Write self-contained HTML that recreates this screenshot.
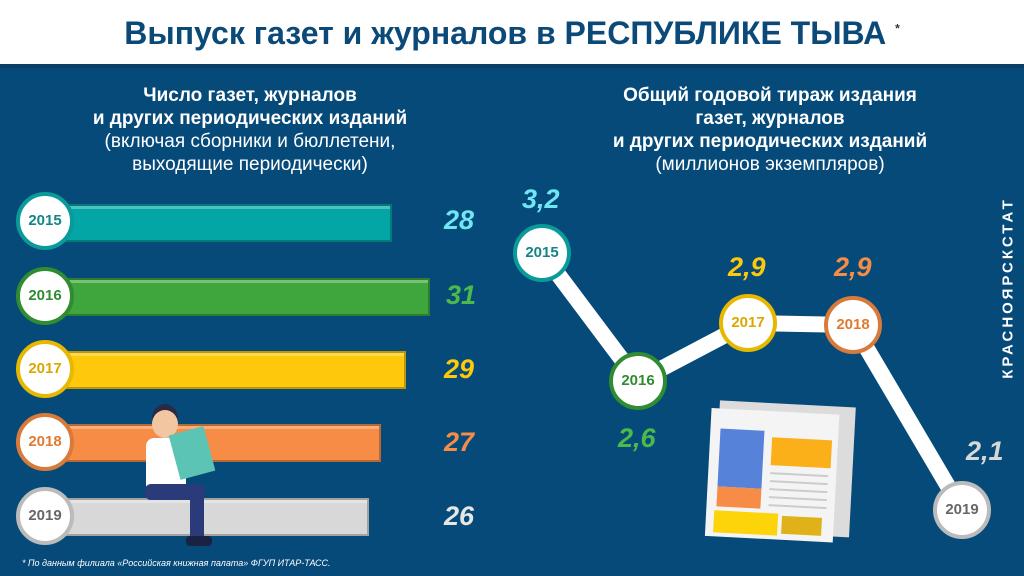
<!DOCTYPE html><html><head><meta charset="utf-8"><style>
body{margin:0;width:1024px;height:576px;overflow:hidden;background:#064a7a;font-family:"Liberation Sans",sans-serif;position:relative}
.top{position:absolute;left:0;top:0;width:1024px;height:64px;background:#fff;border-bottom:4px solid #0b3f68}
.title{position:absolute;top:15px;width:1024px;text-align:center;font-size:32px;font-weight:bold;color:#0b4a78}
.t{position:absolute;color:#fff;text-align:center;font-size:19px;line-height:23px}
.bar{position:absolute;height:34px;border:2px solid rgba(0,0,0,.25);box-shadow:inset 0 3px 0 rgba(255,255,255,.3)}
.c{position:absolute;width:50px;height:50px;border-radius:50%;background:#fff;border:4px solid;font-weight:bold;font-size:15px;text-align:center;line-height:50px}
.v{position:absolute;font-size:27px;font-weight:bold;font-style:italic}
</style></head><body>
<div class="top"></div>
<div class="title">Выпуск газет и журналов в РЕСПУБЛИКЕ ТЫВА <sup style="font-size:12px;color:#333">*</sup></div>
<div class="t" style="left:20px;width:460px;top:84px"><b>Число газет, журналов<br>и других периодических изданий</b><br>(включая сборники и бюллетени,<br>выходящие периодически)</div>
<div class="t" style="left:540px;width:460px;top:84px"><b>Общий годовой тираж издания<br>газет, журналов<br>и других периодических изданий</b><br>(миллионов экземпляров)</div>

<div class="bar" style="left:60px;top:204px;width:328px;background:#03a5a5"></div>
<div class="bar" style="left:60px;top:278px;width:366px;background:#3ea63c"></div>
<div class="bar" style="left:60px;top:351px;width:342px;background:#fdc90a"></div>
<div class="bar" style="left:60px;top:424px;width:317px;background:#f68c45"></div>
<div class="bar" style="left:60px;top:498px;width:305px;background:#d8d8d8"></div>
<div class="c" style="left:16px;top:192px;border-color:#0a9a9a;color:#138585">2015</div>
<div class="c" style="left:16px;top:267px;border-color:#2f8c30;color:#2f8c30">2016</div>
<div class="c" style="left:16px;top:340px;border-color:#e6b800;color:#d9a800">2017</div>
<div class="c" style="left:16px;top:413px;border-color:#d77a3a;color:#e07a30">2018</div>
<div class="c" style="left:16px;top:487px;border-color:#bbb;color:#666">2019</div>
<div class="v" style="left:444px;top:205px;color:#6fe6f4">28</div>
<div class="v" style="left:446px;top:280px;color:#4cba4a">31</div>
<div class="v" style="left:444px;top:354px;color:#fdc90a">29</div>
<div class="v" style="left:444px;top:427px;color:#f68c45">27</div>
<div class="v" style="left:444px;top:501px;color:#e6e6e6">26</div>
<!-- person -->
<div style="position:absolute;left:146px;top:438px;width:40px;height:50px;background:#fff;border-radius:8px 8px 0 0"></div>
<div style="position:absolute;left:152px;top:410px;width:26px;height:28px;background:#f2c6a0;border-radius:50%;box-shadow:0 -6px 0 #2a2a44"></div>
<div style="position:absolute;left:145px;top:484px;width:60px;height:16px;background:#2b3a78;border-radius:6px"></div>
<div style="position:absolute;left:190px;top:490px;width:14px;height:48px;background:#2b3a78"></div>
<div style="position:absolute;left:186px;top:536px;width:26px;height:10px;background:#1a2244;border-radius:4px"></div>
<div style="position:absolute;left:174px;top:430px;width:36px;height:46px;background:#5cc4b4;transform:rotate(-15deg)"></div>

<svg style="position:absolute;left:0;top:0" width="1024" height="576">
<polyline points="542,253 638,381 748,323 853,325 962,510" fill="none" stroke="#fff" stroke-width="16"/>
<g transform="translate(712,400) rotate(3)">
<rect x="8" y="0" width="136" height="130" fill="#dcdcdc"/>
<rect x="0" y="8" width="128" height="128" fill="#f4f4f4"/>
<rect x="10" y="28" width="44" height="58" fill="#5683d9"/>
<rect x="10" y="86" width="44" height="20" fill="#f68c45"/>
<rect x="62" y="34" width="60" height="28" fill="#fbb01a"/>
<rect x="8" y="110" width="64" height="22" fill="#fdd30a"/>
<rect x="76" y="112" width="40" height="18" fill="#e0b21a"/>
<g stroke="#ccc" stroke-width="2"><line x1="62" y1="70" x2="120" y2="70"/><line x1="62" y1="78" x2="120" y2="78"/><line x1="62" y1="86" x2="120" y2="86"/><line x1="62" y1="94" x2="120" y2="94"/><line x1="62" y1="102" x2="120" y2="102"/></g>
</g>
</svg>
<div class="c" style="left:513px;top:224px;border-color:#0a9a9a;color:#138585">2015</div>
<div class="c" style="left:609px;top:352px;border-color:#2f8c30;color:#2f8c30">2016</div>
<div class="c" style="left:719px;top:294px;border-color:#e6b800;color:#d9a800">2017</div>
<div class="c" style="left:824px;top:296px;border-color:#d77a3a;color:#e07a30">2018</div>
<div class="c" style="left:933px;top:481px;border-color:#bbb;color:#666">2019</div>
<div class="v" style="left:522px;top:184px;color:#6fe6f4">3,2</div>
<div class="v" style="left:618px;top:423px;color:#4cba4a">2,6</div>
<div class="v" style="left:728px;top:252px;color:#fdc90a">2,9</div>
<div class="v" style="left:834px;top:252px;color:#f68c45">2,9</div>
<div class="v" style="left:966px;top:436px;color:#d8d8d8">2,1</div>
<div style="position:absolute;left:1008px;top:288px;transform:translate(-50%,-50%) rotate(-90deg);color:#fff;font-weight:bold;font-size:15px;letter-spacing:3px;white-space:nowrap">КРАСНОЯРСКСТАТ</div>
<div style="position:absolute;left:22px;top:558px;color:#fff;font-size:9px;font-style:italic">* По данным филиала «Российская книжная палата» ФГУП ИТАР-ТАСС.</div>
</body></html>
